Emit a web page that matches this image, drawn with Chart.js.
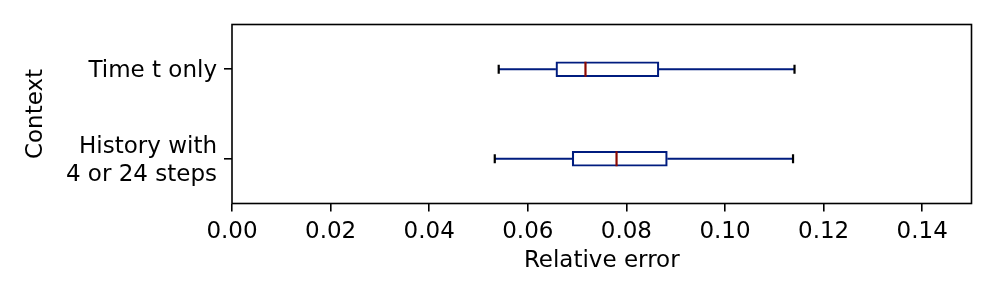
<!DOCTYPE html>
<html><head><meta charset="utf-8">
<script src="https://cdn.jsdelivr.net/npm/chart.js@4.4.0/dist/chart.umd.min.js"></script>
<style>html,body{margin:0;padding:0;background:#fff;overflow:hidden}#wrap{width:996px;height:299px}</style>
</head><body><div id="wrap"><canvas id="c" width="996" height="299"></canvas></div>
<script>
const categories = ['Time t only', ['History with', '4 or 24 steps']];
const whiskerLow = [0.0541, 0.0533];
const quartile1 = [0.0657, 0.0690];
const medians = [0.0717, 0.0780];
const quartile3 = [0.0866, 0.0883];
const whiskerHigh = [0.1141, 0.1138];
const xTickValues = [0, 0.02, 0.04, 0.06, 0.08, 0.10, 0.12, 0.14];

const NAVY = '#001C7F', RED = '#8C0800', FONT = {family: 'DejaVu Sans', size: 23};

const boxExtras = {
  id: 'boxExtras',
  afterDatasetsDraw(chart) {
    const {ctx, scales: {x}, chartArea: a} = chart;
    const meta = chart.getDatasetMeta(0);
    const px = v => x.getPixelForValue(v);
    meta.data.forEach((bar, i) => {
      const yc = bar.y, h = bar.height;
      ctx.save();
      ctx.lineWidth = 2.2;
      ctx.strokeStyle = NAVY;
      ctx.beginPath();
      ctx.moveTo(px(whiskerLow[i]), yc); ctx.lineTo(px(quartile1[i]), yc);
      ctx.moveTo(px(quartile3[i]), yc); ctx.lineTo(px(whiskerHigh[i]), yc);
      ctx.stroke();
      ctx.strokeStyle = '#000';
      ctx.beginPath();
      ctx.moveTo(px(whiskerLow[i]), yc - 4.5); ctx.lineTo(px(whiskerLow[i]), yc + 4.5);
      ctx.moveTo(px(whiskerHigh[i]), yc - 4.5); ctx.lineTo(px(whiskerHigh[i]), yc + 4.5);
      ctx.stroke();
      ctx.strokeStyle = RED;
      ctx.beginPath();
      ctx.moveTo(px(medians[i]), yc - h / 2); ctx.lineTo(px(medians[i]), yc + h / 2);
      ctx.stroke();
      ctx.restore();
    });
    ctx.save();
    ctx.lineWidth = 1.6;
    ctx.strokeStyle = '#000';
    ctx.strokeRect(a.left, a.top, a.right - a.left, a.bottom - a.top);
    ctx.restore();
  }
};

new Chart(document.getElementById('c'), {
  type: 'bar',
  data: {
    labels: categories,
    datasets: [{
      data: quartile1.map((q, i) => [q, quartile3[i]]),
      backgroundColor: '#fff',
      borderColor: NAVY,
      borderWidth: 2.2,
      borderSkipped: false,
      barThickness: 15
    }]
  },
  options: {
    indexAxis: 'y',
    responsive: false,
    animation: false,
    devicePixelRatio: 1,
    layout: {padding: {top: 24.5, right: 24.5, left: 0, bottom: 0}},
    plugins: {legend: {display: false}, tooltip: {enabled: false}},
    scales: {
      x: {
        type: 'linear', min: 0, max: 0.15,
        afterFit(s) { s.height = 95.5; s.paddingLeft = 0; s.paddingRight = 0; },
        afterBuildTicks(s) { s.ticks = xTickValues.map(v => ({value: v})); },
        ticks: {font: FONT, color: '#000', padding: 7, autoSkip: false, maxRotation: 0,
          callback: v => Number(v).toFixed(2)},
        grid: {display: true, drawOnChartArea: false, drawTicks: true, tickLength: 8, color: '#000', lineWidth: 1.6},
        border: {display: false},
        title: {display: true, text: 'Relative error', font: FONT, color: '#000', padding: {top: 0, bottom: 24.5}}
      },
      y: {
        type: 'category', offset: true,
        afterFit(s) { s.width = 232; s.paddingTop = 0; s.paddingBottom = 0; },
        ticks: {font: FONT, color: '#000', padding: 7, autoSkip: false, labelOffset: 2},
        grid: {display: true, drawOnChartArea: false, drawTicks: true, tickLength: 8, color: '#000', lineWidth: 1.6, offset: false},
        border: {display: false},
        title: {display: true, text: 'Context', font: FONT, color: '#000', padding: {top: 22.5, bottom: 0}}
      }
    }
  },
  plugins: [boxExtras]
});
</script></body></html>
